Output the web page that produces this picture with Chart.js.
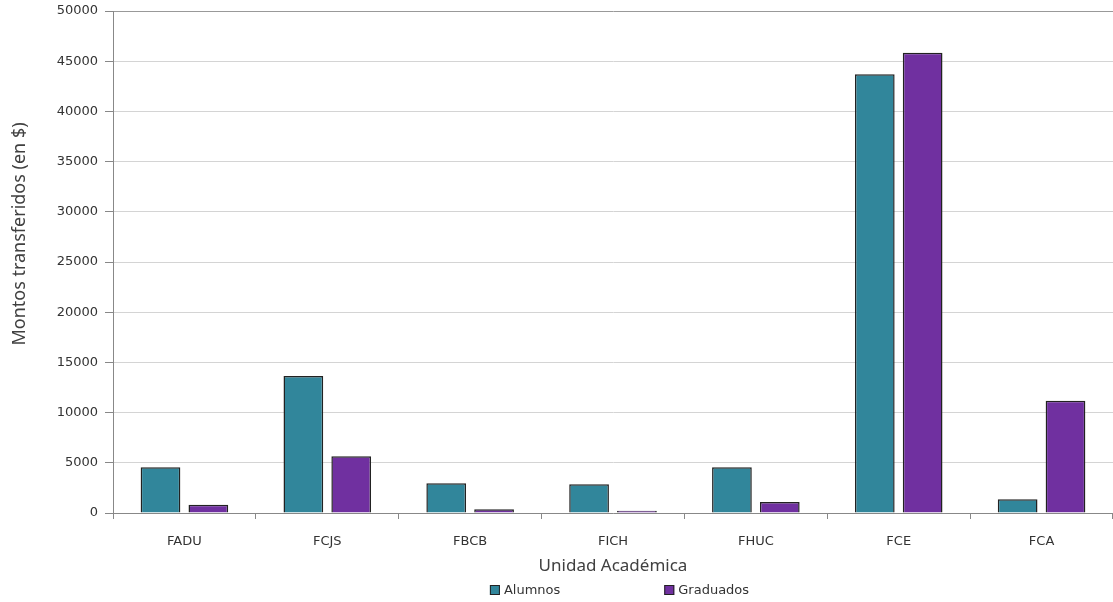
<!DOCTYPE html>
<html>
<head>
<meta charset="utf-8">
<script src="https://cdn.jsdelivr.net/npm/chart.js@4.4.0/dist/chart.umd.min.js"></script>
<style>
    body{margin:0;background:#fff}
    #wrap{width:1113px;height:602px}
</style>
</head>
<body>
<div id="wrap"><canvas id="myChart" width="1113" height="602"></canvas></div>
<script>
var unidades=["FADU","FCJS","FBCB","FICH","FHUC","FCE","FCA"]
var alumnos=[4550,13650,2960,2860,4550,43700,1360]
var graduados=[830,5650,370,230,1100,45850,11180]
var yTicks=[0,5000,10000,15000,20000,25000,30000,35000,40000,45000,50000]
var yTitle="Montos transferidos (en $)"

var colAlumnos="#31869b"
var colGraduados="#7030a0"

// legend and y title drawn by hand, the original puts them off-centre
var extras={
    id:"extras",
    afterDraw:function(chart){
        var ctx=chart.ctx
        var area=chart.chartArea
        ctx.save()
        ctx.font="13px 'DejaVu Sans'"
        ctx.textBaseline="middle"
        var items=chart.data.datasets
        var gap=103
        var widths=[]
        var total=0
        for(var i=0;i<items.length;i++){
            var w=15+ctx.measureText(items[i].label).width
            widths.push(w)
            total+=w
        }
        total+=gap*(items.length-1)
        var x=(area.left+area.right)/2+7-total/2
        var y=590
        for(var i=0;i<items.length;i++){
            ctx.fillStyle=items[i].backgroundColor
            ctx.fillRect(x,y-5,10,10)
            ctx.strokeStyle="#222"
            ctx.lineWidth=1
            ctx.strokeRect(x+0.5,y-4.5,9,9)
            ctx.fillStyle="#333"
            ctx.fillText(items[i].label,x+14,y+1)
            x+=widths[i]+gap
        }

        ctx.translate(20,234)
        ctx.rotate(-Math.PI/2)
        ctx.font="18px 'Noto Sans'"
        ctx.textAlign="center"
        ctx.fillStyle="#404040"
        ctx.fillText(yTitle,0,0)
        ctx.restore()
    }
}

var myChart=document.getElementById("myChart").getContext('2d')
var chart=new Chart(myChart,{
    type:'bar',
    data:{
        labels:unidades,
        datasets:[
            {
                label:"Alumnos",
                data:alumnos,
                backgroundColor:colAlumnos,
                borderColor:"#222",
                borderWidth:1.5,
                borderSkipped:"bottom",
                inflateAmount:0,
                categoryPercentage:0.67,
                barPercentage:0.83
            },
            {
                label:"Graduados",
                data:graduados,
                backgroundColor:colGraduados,
                borderColor:"#222",
                borderWidth:1.5,
                borderSkipped:"bottom",
                inflateAmount:0,
                categoryPercentage:0.67,
                barPercentage:0.83
            }
        ]
    },
    options:{
        responsive:false,
        animation:false,
        layout:{padding:{top:11,right:0,bottom:24,left:0}},
        plugins:{
            legend:{display:false},
            tooltip:{enabled:false}
        },
        scales:{
            x:{
                grid:{
                    offset:true,
                    drawOnChartArea:false,
                    tickLength:6,
                    tickColor:"#888"
                },
                border:{color:"#888"},
                ticks:{
                    color:"#333",
                    font:{family:"DejaVu Sans",size:13},
                    padding:15,
                    maxRotation:0
                },
                title:{
                    display:true,
                    text:"Unidad Académica",
                    color:"#404040",
                    font:{family:"Noto Sans",size:17},
                    padding:{top:4,bottom:2}
                },
                afterFit:function(scale){scale.height=65}
            },
            y:{
                min:0,
                max:50000,
                afterBuildTicks:function(scale){
                    scale.ticks=yTicks.map(function(v){return {value:v}})
                },
                grid:{
                    color:function(c){return c.tick && c.tick.value==50000 ? "#999" : "#d4d4d4"},
                    tickLength:8,
                    tickColor:"#888"
                },
                border:{color:"#888"},
                ticks:{
                    color:"#333",
                    font:{family:"DejaVu Sans",size:13},
                    padding:7,
                    callback:function(v){return v}
                },
                afterFit:function(scale){
                    scale.width=113
                    scale.paddingTop=0
                    scale.paddingBottom=0
                }
            }
        }
    },
    plugins:[extras]
})
</script>
</body>
</html>
